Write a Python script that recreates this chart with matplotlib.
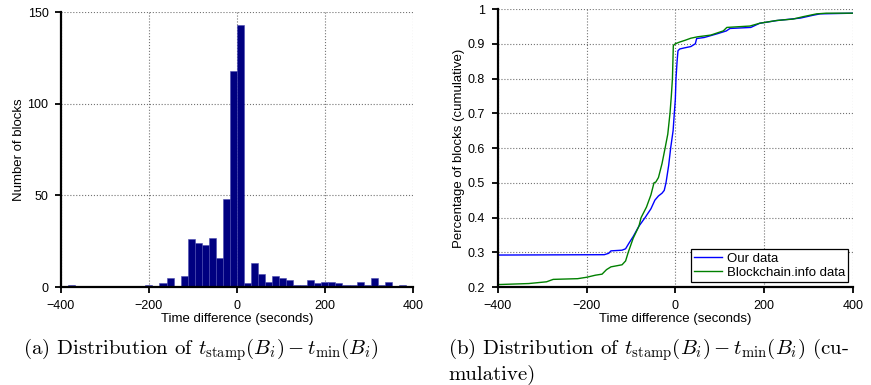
import matplotlib
matplotlib.use("Agg")
import matplotlib.pyplot as plt
import numpy as np

plt.rcParams['font.family'] = ['Liberation Sans', 'DejaVu Sans']
plt.rcParams['mathtext.fontset'] = 'cm'

# histogram: bin edges (seconds) and counts
bin_edges = np.arange(-400, 401, 16)
counts = [0, 1, 0, 0, 0, 0, 0, 0, 0, 0, 0, 0, 1, 0, 2, 5, 0, 6, 26, 24, 23, 27, 16, 48, 118,
          143, 2, 13, 7, 3, 6, 5, 4, 1, 1, 4, 2, 3, 3, 2, 1, 1, 3, 1, 5, 1, 3, 0, 1, 0]

# cumulative curves
ours_x = [-400, -160, -150, -145, -120, -112, -105, -95, -82, -68, -55, -46, -38, -30, -25,
          -21, -15, -10.5, -5, -2.3, 0, 1.5, 4, 6, 10, 20, 35, 45, 48, 65, 95, 115, 123, 170,
          190, 230, 260, 282, 310, 326, 400]
ours_y = [0.292, 0.293, 0.297, 0.304, 0.306, 0.31, 0.325, 0.345, 0.375, 0.4, 0.425, 0.45,
          0.462, 0.47, 0.478, 0.5, 0.55, 0.6, 0.65, 0.7, 0.74, 0.8, 0.85, 0.88, 0.885, 0.888,
          0.892, 0.9, 0.915, 0.918, 0.929, 0.937, 0.944, 0.947, 0.959, 0.967, 0.971, 0.974,
          0.982, 0.986, 0.988]

bci_x = [-400, -330, -290, -275, -220, -200, -180, -165, -155, -145, -120, -112, -106, -95,
         -82, -77, -65, -55, -48, -44, -38, -30, -23, -17, -12, -9, -6.5, -4.5, 0, 10, 22, 35,
         50, 80, 108, 116, 168, 190, 228, 265, 288, 318, 340, 400]
bci_y = [0.207, 0.21, 0.215, 0.222, 0.224, 0.228, 0.234, 0.237, 0.25, 0.258, 0.264, 0.275,
         0.3, 0.34, 0.375, 0.4, 0.43, 0.465, 0.5, 0.502, 0.515, 0.555, 0.6, 0.64, 0.7, 0.75,
         0.8, 0.895, 0.9, 0.905, 0.91, 0.916, 0.92, 0.925, 0.937, 0.947, 0.951, 0.959, 0.967,
         0.971, 0.978, 0.986, 0.988, 0.988]

xticks = [-400, -200, 0, 200, 400]
hist_yticks = [0, 50, 100, 150]
cdf_yticks = [0.2, 0.3, 0.4, 0.5, 0.6, 0.7, 0.8, 0.9, 1.0]
cdf_ylabels = ['0.2', '0.3', '0.4', '0.5', '0.6', '0.7', '0.8', '0.9', '1']


def style_axes(ax):
    for s in ['top', 'right']:
        ax.spines[s].set_visible(False)
    for s in ['left', 'bottom']:
        ax.spines[s].set_linewidth(1.6)
    ax.grid(True, linestyle=':', color='0.45', linewidth=0.8)
    ax.set_axisbelow(True)
    ax.tick_params(direction='out', length=4, width=1.3, labelsize=9, pad=5)
    ax.set_xticks(xticks)
    ax.set_xlim(-400, 400)
    ax.set_xlabel('Time difference (seconds)', fontsize=9.5, labelpad=1)


fig = plt.figure(figsize=(8.71, 3.85), dpi=100)

# (a) histogram
ax1 = fig.add_axes([0.070, 0.2545, 0.404, 0.714])
ax1.bar(bin_edges[:-1], counts, width=16, align='edge', color='#000080',
        edgecolor='#4a4ab0', linewidth=0.4)
style_axes(ax1)
ax1.set_ylim(0, 150)
ax1.set_yticks(hist_yticks)
ax1.set_ylabel('Number of blocks', fontsize=9.5, labelpad=2)

# (b) cumulative
ax2 = fig.add_axes([0.5714, 0.2545, 0.4079, 0.7221])
ax2.plot(ours_x, ours_y, color='#0000ff', linewidth=1.0, label='Our data')
ax2.plot(bci_x, bci_y, color='#008000', linewidth=1.0, label='Blockchain.info data')
style_axes(ax2)
ax2.set_ylim(0.2, 1.0)
ax2.set_yticks(cdf_yticks)
ax2.set_yticklabels(cdf_ylabels)
ax2.set_ylabel('Percentage of blocks (cumulative)', fontsize=9.5, labelpad=2)
leg = ax2.legend(loc='lower right', fontsize=9.5, fancybox=False, framealpha=1,
                 edgecolor='black', borderpad=0.25, labelspacing=0.15, handlelength=2.1,
                 handletextpad=0.4, borderaxespad=0.35)
leg.get_frame().set_linewidth(0.9)

# captions
cap_kw = dict(fontsize=15, family='cmr10', va='center')
fig.text(23 / 871, 1 - 350 / 385,
         r'(a) Distribution of $t_{\mathrm{stamp}}(B_i) - t_{\mathrm{min}}(B_i)$',
         ha='left', **cap_kw)
fig.text(448 / 871, 1 - 350 / 385,
         r'(b) Distribution of $t_{\mathrm{stamp}}(B_i) - t_{\mathrm{min}}(B_i)$ (cu-',
         ha='left', **cap_kw)
fig.text(448 / 871, 1 - 375 / 385, 'mulative)', ha='left', **cap_kw)

fig.savefig('out.png', dpi=100)
